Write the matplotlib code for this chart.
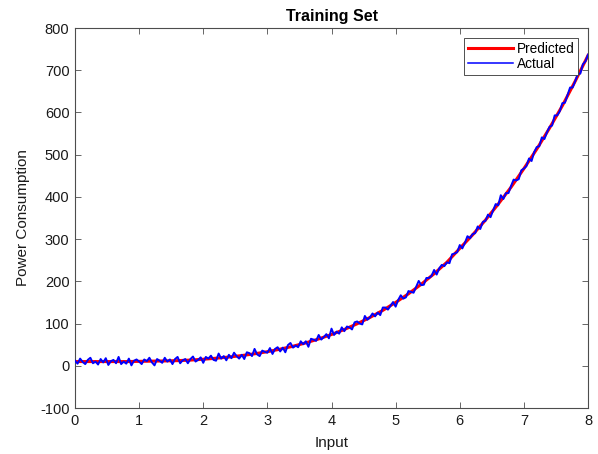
import numpy as np
import matplotlib
matplotlib.use("Agg")
from matplotlib import pyplot as plt

plt.rcParams['font.family'] = ['Liberation Sans', 'DejaVu Sans']
plt.rcParams['axes.unicode_minus'] = False

# predicted curve, read every 0.2 on the input axis
x_pred = np.arange(0, 8.0001, 0.2)
y_pred = [10, 10, 10, 10, 10, 10.5, 11, 11.5, 12.2, 13.5,
          15.5, 17.9, 20.7, 24.2, 28.4, 33.4, 39.4, 46.3, 54.3, 63.6,
          74.1, 86, 99.5, 114.5, 131.3, 150, 170.5, 193.2, 218, 245.3,
          278, 310, 345, 383, 423, 467, 513, 563, 616, 674,
          735]

# measured (noisy) values, every 0.04
x_act = np.arange(0, 8.0001, 0.04)
y_act = [12, 5, 17, 9, 4, 14, 19, 6, 10, 3,
         16, 8, 18, 2, 11, 14, 6, 21, 4, 10,
         5, 17, 1, 12, 15, 10, 4, 15, 11, 19,
         8, 1, 16, 12, 7, 19, 10, 15, 4, 16,
         21, 6, 13, 16, 6, 16, 22, 10, 14, 20,
         7, 21, 17, 24, 14, 12, 29, 17, 23, 13,
         26, 18, 31, 23, 17, 26, 16, 32, 30, 23,
         40, 27, 23, 36, 33, 31, 42, 28, 40, 44,
         34, 43, 32, 49, 54, 43, 48, 44, 58, 51,
         58, 45, 64, 62, 59, 73, 62, 68, 75, 65,
         88, 73, 81, 76, 91, 82, 93, 91, 86, 103,
         105, 100, 98, 118, 109, 115, 124, 117, 126, 120,
         138, 138, 133, 142, 151, 140, 156, 167, 159, 162,
         177, 175, 173, 187, 201, 191, 192, 208, 208, 213,
         227, 216, 231, 239, 236, 245, 243, 264, 266, 269,
         286, 278, 291, 307, 302, 312, 314, 330, 324, 341,
         343, 358, 352, 368, 383, 380, 404, 395, 409, 409,
         426, 441, 439, 442, 463, 467, 473, 491, 485, 506,
         518, 520, 541, 537, 553, 566, 569, 593, 593, 603,
         622, 623, 641, 659, 659, 674, 691, 692, 714, 721,
         737]

fig = plt.figure(figsize=(5.98, 4.54), dpi=100)
ax = fig.add_axes([0.1254, 0.1013, 0.8579, 0.837])

ax.plot(x_pred, y_pred, color='#ff0000', lw=2.2, label='Predicted', zorder=2)
ax.plot(x_act, y_act, color='#0000ff', lw=1.4, label='Actual', zorder=3)

ax.set_xlim(0, 8)
ax.set_ylim(-100, 800)
ax.set_xticks(range(0, 9))
ax.set_yticks(range(-100, 801, 100))

axis_col = '#4d4d4d'
for s in ax.spines.values():
    s.set_color(axis_col)
    s.set_linewidth(0.8)
ax.tick_params(direction='in', length=4, width=0.6, color=axis_col,
               labelsize=10.5, labelcolor='#1a1a1a', top=True, right=True,
               labeltop=False, labelright=False, pad=4)

ax.set_title('Training Set', fontsize=11.5, fontweight='bold', pad=5)
ax.set_xlabel('Input', fontsize=11, color='#1a1a1a', labelpad=6)
ax.set_ylabel('Power Consumption', fontsize=11, color='#1a1a1a', labelpad=7)

leg = ax.legend(loc='upper right', fontsize=9.8, handlelength=3.3,
                handletextpad=0.3, labelspacing=0.12, borderpad=0.3,
                borderaxespad=0.7, fancybox=False, framealpha=1)
leg.get_frame().set_edgecolor('#333333')
leg.get_frame().set_linewidth(0.6)
leg.get_lines()[1].set_linewidth(1.1)

fig.savefig('out.png', dpi=100)
